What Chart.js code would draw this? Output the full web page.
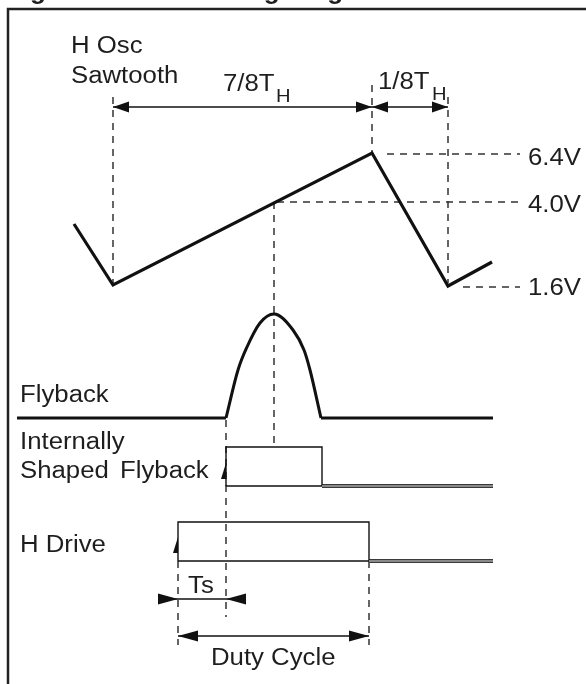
<!DOCTYPE html>
<html>
<head>
<meta charset="utf-8">
<script src="https://cdn.jsdelivr.net/npm/chart.js@4.4.1/dist/chart.umd.min.js"></script>
<style>
body { margin: 0; background: #fff; }
canvas { display: block; }
</style>
</head>
<body>
<canvas id="diagram" width="586" height="684"></canvas>
<script>
// time runs left->right, level runs top->bottom (diagram units)
const frameTime = [8, 8, 586];
const frameLevel = [684, 9, 9];

const sawTime = [74, 113, 372, 448, 492];
const sawLevel = [224, 285, 153, 286, 262];

const flyPulseTime = [226, 238, 247, 260, 274, 293, 304, 310, 321];
const flyPulseLevel = [418, 370, 347, 323, 314, 330, 350, 370, 418];
const flyLeftTime = [17, 226];
const flyRightTime = [321, 493];
const flyBaseLevel = [418, 418];

const shapedTime = [226, 226, 322, 322, 226];
const shapedLevel = [486, 447, 447, 486, 486];
const shapedTailTime = [322, 493];
const shapedTailLevel = [486, 486];

const driveTime = [178, 178, 369, 369, 178];
const driveLevel = [561, 522, 522, 561, 561];
const driveTailTime = [369, 493];
const driveTailLevel = [561, 561];

// dashed guide lines: [t1, l1, t2, l2]
const guides = [
	[113, 97, 113, 283],
	[372, 85, 372, 153],
	[448, 97, 448, 283],
	[387, 154, 520, 154],
	[277, 202, 520, 202],
	[463, 287, 520, 287],
	[274, 202, 274, 447],
	[226, 420, 226, 617],
	[178, 561, 178, 645],
	[369, 561, 369, 645]
];

// dimension lines: [t1, t2, level]
const dims = [
	[113, 372, 107],
	[372, 448, 107],
	[158, 246, 599],
	[178, 369, 636]
];

// arrow heads: tip position and direction
const heads = [
	{ t: 113, l: 107, dir: "left", big: false },
	{ t: 372, l: 107, dir: "right", big: false },
	{ t: 372, l: 107, dir: "left", big: false },
	{ t: 448, l: 107, dir: "right", big: false },
	{ t: 178, l: 599, dir: "right", big: true },
	{ t: 226, l: 599, dir: "left", big: true },
	{ t: 178, l: 636, dir: "left", big: true },
	{ t: 369, l: 636, dir: "right", big: true },
	{ t: 226, l: 463, dir: "up", big: false },
	{ t: 178, l: 537, dir: "up", big: false }
];

const labels = [
	{ text: "Figure 5. Drive Timing Diagram", t: 7, l: -1.5, kind: "title" },
	{ text: "H Osc", t: 71, l: 53, kind: "main" },
	{ text: "Sawtooth", t: 71, l: 83, kind: "main" },
	{ text: "7/8T", t: 223, l: 91, kind: "main" },
	{ text: "H", t: 276, l: 102, kind: "sub" },
	{ text: "1/8T", t: 378, l: 89, kind: "main" },
	{ text: "H", t: 432, l: 100, kind: "sub" },
	{ text: "6.4V", t: 528, l: 165, kind: "main" },
	{ text: "4.0V", t: 528, l: 212, kind: "main" },
	{ text: "1.6V", t: 528, l: 295, kind: "main" },
	{ text: "Flyback", t: 20, l: 402, kind: "main" },
	{ text: "Internally", t: 20, l: 449, kind: "main" },
	{ text: "Shaped", t: 20, l: 478, kind: "main" },
	{ text: "Flyback", t: 120, l: 478, kind: "main" },
	{ text: "H Drive", t: 20, l: 552, kind: "main" },
	{ text: "Ts", t: 188, l: 593, kind: "main" },
	{ text: "Duty Cycle", t: 211, l: 665, kind: "main" }
];

function pts(ts, ls) {
	return ts.map((t, i) => ({ x: t, y: ls[i] }));
}

function line(data, width, color, extra) {
	return Object.assign({
		data: data,
		showLine: true,
		borderColor: color,
		borderWidth: width,
		pointRadius: 0,
		fill: false,
		tension: 0,
		borderJoinStyle: "miter",
		borderCapStyle: "butt"
	}, extra || {});
}

let datasets = [
	line(pts(frameTime, frameLevel), 2.5, "#222"),
	line(pts(sawTime, sawLevel), 3.2, "#111"),
	line(pts(flyPulseTime, flyPulseLevel), 3, "#111", { cubicInterpolationMode: "monotone" }),
	line(pts(flyLeftTime, flyBaseLevel), 3, "#111"),
	line(pts(flyRightTime, flyBaseLevel), 3, "#111"),
	line(pts(shapedTime, shapedLevel), 1.4, "#111"),
	line(pts(driveTime, driveLevel), 1.4, "#111"),
	line(pts(shapedTailTime, shapedTailLevel), 2, "#8a8a8a", { order: -1 }),
	line(pts(shapedTailTime, shapedTailLevel), 4, "#3a3a3a", { order: 0 }),
	line(pts(driveTailTime, driveTailLevel), 2, "#8a8a8a", { order: -1 }),
	line(pts(driveTailTime, driveTailLevel), 4, "#3a3a3a", { order: 0 })
];
guides.forEach((g) => {
	datasets.push(line([{ x: g[0], y: g[1] }, { x: g[2], y: g[3] }], 1.5, "#333", { borderDash: [7, 6] }));
});
dims.forEach((d) => {
	datasets.push(line([{ x: d[0], y: d[2] }, { x: d[1], y: d[2] }], 1.6, "#111"));
});

const diagramPlugin = {
	id: "diagram",
	afterDatasetsDraw(chart) {
		const ctx = chart.ctx;
		const sx = chart.scales.x, sy = chart.scales.y;
		ctx.save();
		ctx.fillStyle = "#111";
		heads.forEach((h) => {
			const px = sx.getPixelForValue(h.t);
			const py = sy.getPixelForValue(h.l);
			const len = h.big ? 20 : 16;
			const w = 5.5;
			ctx.beginPath();
			if(h.dir === "up") {
				ctx.moveTo(px, py);
				ctx.lineTo(px, py + 16);
				ctx.lineTo(px - 5, py + 16);
			} else {
				const s = h.dir === "right" ? 1 : -1;
				ctx.moveTo(px, py);
				ctx.lineTo(px - s * len, py - w);
				ctx.lineTo(px - s * len, py + w);
			}
			ctx.closePath();
			ctx.fill();
		});
		ctx.fillStyle = "#1e1e1e";
		ctx.textBaseline = "alphabetic";
		ctx.textAlign = "left";
		labels.forEach((lb) => {
			const px = sx.getPixelForValue(lb.t);
			const py = sy.getPixelForValue(lb.l);
			let stretch = 1.12;
			if(lb.kind === "title") {
				ctx.font = "bold 26px 'Liberation Sans', Arial, sans-serif";
				stretch = 1;
			} else if(lb.kind === "sub") {
				ctx.font = "18px 'Liberation Sans', Arial, sans-serif";
			} else {
				ctx.font = "23px 'Liberation Sans', Arial, sans-serif";
			}
			ctx.save();
			ctx.translate(px, py);
			ctx.scale(stretch, 1);
			ctx.fillText(lb.text, 0, 0);
			ctx.restore();
		});
		ctx.restore();
	}
};

new Chart(document.getElementById("diagram"), {
	type: "scatter",
	data: { datasets: datasets },
	options: {
		responsive: false,
		animation: false,
		devicePixelRatio: 1,
		layout: { padding: 0 },
		plugins: {
			legend: { display: false },
			tooltip: { enabled: false }
		},
		scales: {
			x: { type: "linear", min: 0, max: 586, display: false },
			y: { type: "linear", min: 0, max: 684, reverse: true, display: false }
		}
	},
	plugins: [diagramPlugin]
});
</script>
</body>
</html>
